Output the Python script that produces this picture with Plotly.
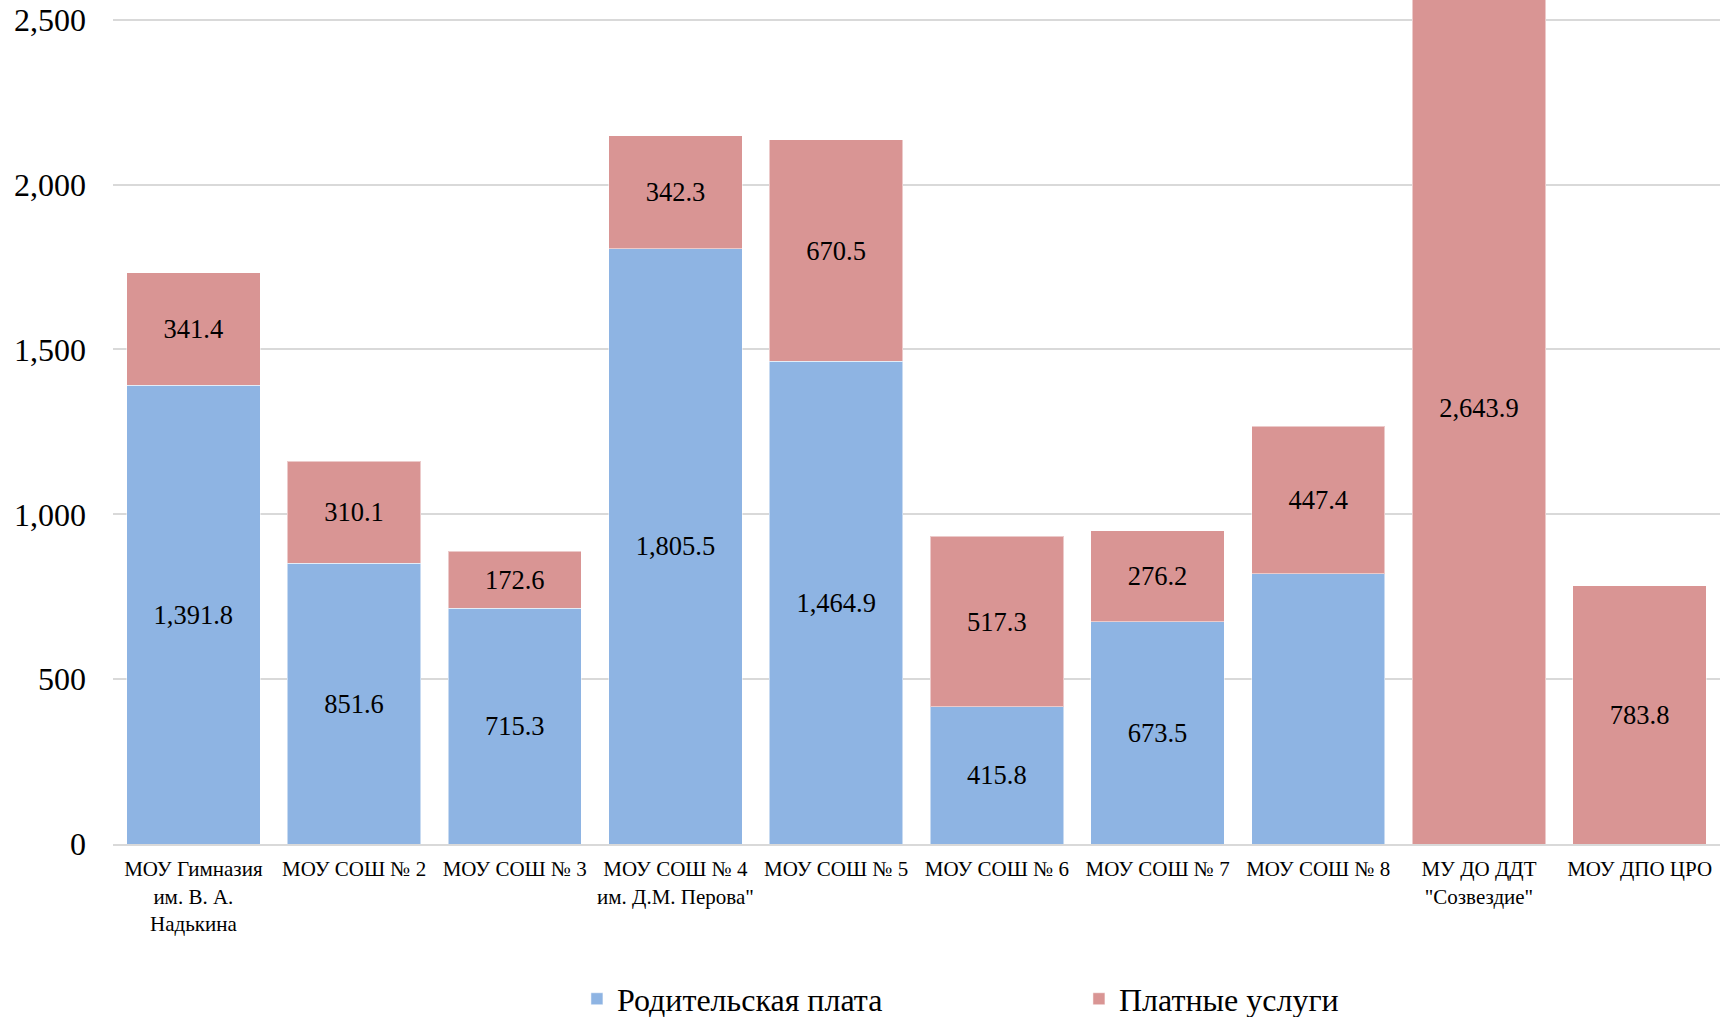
import plotly.graph_objects as go

categories = [
    "МОУ Гимназия<br>им. В. А.<br>Надькина",
    "МОУ СОШ № 2",
    "МОУ СОШ № 3",
    "МОУ СОШ № 4<br>им. Д.М. Перова\"",
    "МОУ СОШ № 5",
    "МОУ СОШ № 6",
    "МОУ СОШ № 7",
    "МОУ СОШ № 8",
    "МУ ДО ДДТ<br>\"Созвездие\"",
    "МОУ ДПО ЦРО",
]
parent_fee = [1391.8, 851.6, 715.3, 1805.5, 1464.9, 415.8, 673.5, 819.4, 0, 0]
parent_label_shown = [True, True, True, True, True, True, True, False, False, False]
paid_services = [341.4, 310.1, 172.6, 342.3, 670.5, 517.3, 276.2, 447.4, 2643.9, 783.8]
series_names = ["Родительская плата", "Платные услуги"]
y_ticks = [0, 500, 1000, 1500, 2000, 2500]

FONT = "Liberation Serif, Times New Roman, serif"
BLUE = "#8EB4E3"
RED = "#D99594"


def fmt(v):
    return f"{v:,.1f}"


fig = go.Figure()
fig.add_trace(go.Bar(
    x=categories, y=parent_fee, name=series_names[0],
    marker=dict(color=BLUE, line=dict(color="rgba(255,255,255,0.5)", width=1)),
    text=[fmt(v) if s else "" for v, s in zip(parent_fee, parent_label_shown)],
    textposition="inside", insidetextanchor="middle",
    textfont=dict(family=FONT, size=26.5, color="black"),
    hoverinfo="x+y",
))
fig.add_trace(go.Bar(
    x=categories, y=paid_services, name=series_names[1],
    marker=dict(color=RED, line=dict(color="rgba(255,255,255,0.5)", width=1)),
    text=[fmt(v) for v in paid_services],
    textposition="inside", insidetextanchor="middle",
    textfont=dict(family=FONT, size=26.5, color="black"),
    hoverinfo="x+y",
))

fig.update_layout(
    width=1725, height=1017, autosize=False,
    barmode="stack", bargap=0.17,
    plot_bgcolor="white", paper_bgcolor="white",
    margin=dict(l=113, r=5, t=0, b=173, autoexpand=False),
    font=dict(family=FONT, color="black"),
    uniformtext=dict(mode=False),
    showlegend=True,
    legend=dict(
        orientation="h", x=0.2887, xanchor="left", y=-0.1836, yanchor="middle",
        font=dict(family=FONT, size=32, color="black"),
        entrywidth=457, entrywidthmode="pixels",
        traceorder="normal",
    ),
    xaxis=dict(
        tickfont=dict(family=FONT, size=21, color="black"),
        showline=True, linecolor="#D9D9D9", linewidth=2,
        ticks="", tickangle=0, automargin=False,
        ticklabelstandoff=5,
    ),
    yaxis=dict(
        range=[0, 2560], tickvals=y_ticks, tickformat=",",
        tickfont=dict(family=FONT, size=32, color="black"),
        showgrid=True, gridcolor="#D9D9D9", gridwidth=1.5,
        zeroline=False, showline=False, ticks="",
        ticklabelstandoff=26, automargin=False,
    ),
)

fig.write_html(
    "out.html",
    config={"displayModeBar": False},
    post_script="document.body.style.margin='0px';",
)
